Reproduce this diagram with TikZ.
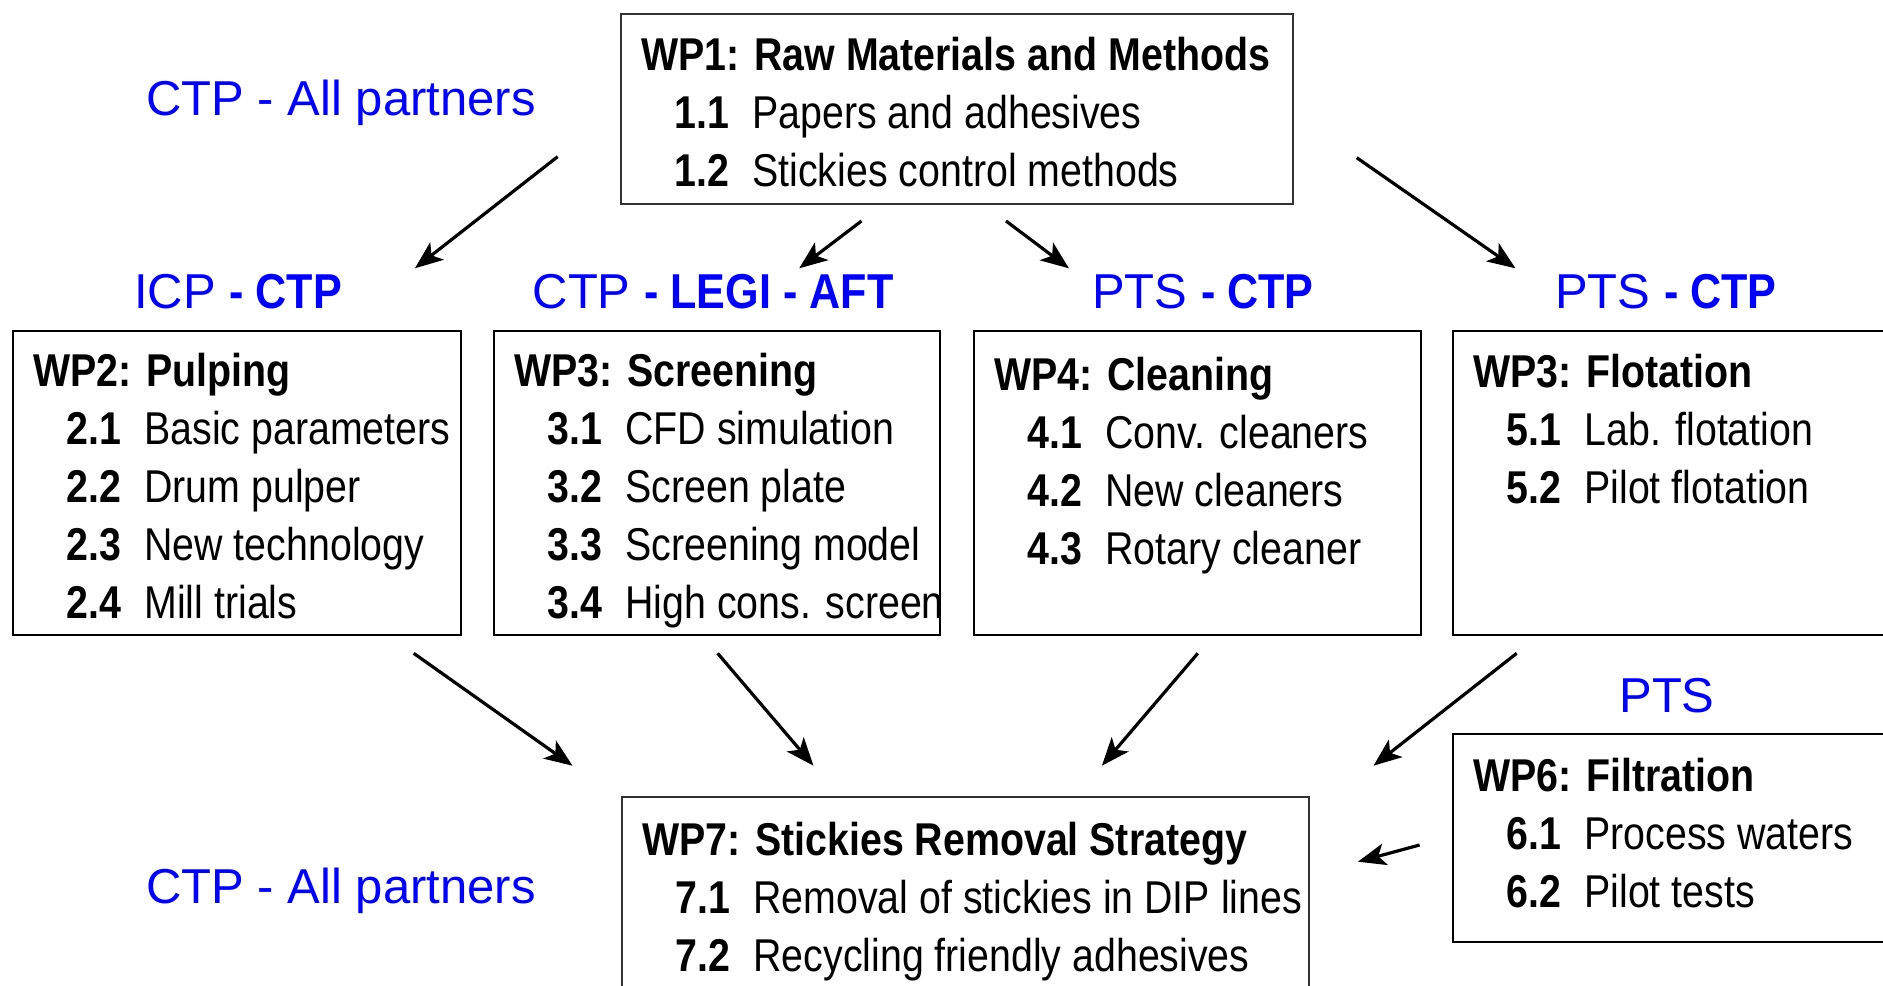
\documentclass[tikz,border=0pt]{standalone}
\usepackage{fontspec}
\setmainfont{Liberation Sans}
\newfontfamily\narrowfont{Liberation Sans}[FakeStretch=0.855]
\newfontfamily\labelbold{Liberation Sans}[FakeStretch=0.88]
\usetikzlibrary{arrows.meta,calc}
\definecolor{partnerblue}{RGB}{0,0,255}
\newcommand\wpcontent[4]{%
  % #1 box name, #2 title offset, #3 title, #4 items
  \node[wptitle] (#1t) at ($(#1.north west)+(20,#2)$) {#3};
  \foreach \n/\t [count=\i] in {#4} {
    \node[wpnum] (#1n\i) at ($(#1.north west)+(53,#2+58*\i)$) {\n};
    \node[wpitem] (#1i\i) at ($(#1.north west)+(131,#2+58*\i)$) {\t};
  }%
}
\begin{document}
\begin{tikzpicture}[x=0.5pt,y=-0.5pt,
  wpbox/.style={draw=black,line width=1.2pt,anchor=north west,inner sep=0pt,outer sep=0pt},
  wpboxgray/.style={wpbox,draw=black!80,line width=1pt},
  wptitle/.style={anchor=base west,inner sep=0pt,font=\narrowfont\fontsize{23}{27}\selectfont\bfseries},
  wpnum/.style={anchor=base west,inner sep=0pt,font=\narrowfont\fontsize{23}{27}\selectfont\bfseries},
  wpitem/.style={anchor=base west,inner sep=0pt,font=\narrowfont\fontsize{23}{27}\selectfont},
  partner/.style={anchor=base,inner sep=0pt,text=partnerblue,font=\fontsize{24.5}{29}\selectfont},
  flow/.style={line width=1.6pt,-{Stealth[length=14pt,width=11pt,inset=3.5pt]}}
]
\useasboundingbox (0,0) rectangle (1883,985);
\clip (0,0) rectangle (1883,985);
\fill[white] (0,0) rectangle (1883,985);

% boxes
\node[wpboxgray,minimum width=336pt,minimum height=95pt] (wp1) at (621,14) {};
\node[wpbox,minimum width=224pt,minimum height=152pt] (wp2) at (13,331) {};
\node[wpbox,minimum width=223pt,minimum height=152pt] (wp3) at (494,331) {};
\node[wpbox,minimum width=223.5pt,minimum height=152pt] (wp4) at (974,331) {};
\node[wpbox,minimum width=223.5pt,minimum height=152pt] (wp5) at (1453,331) {};
\node[wpbox,minimum width=223.5pt,minimum height=104pt] (wp6) at (1453,734) {};
\node[wpboxgray,minimum width=343.5pt,minimum height=101.5pt] (wp7) at (622,797) {};

% contents
\wpcontent{wp1}{56}{WP1: Raw Materials and Methods}{1.1/Papers and adhesives,1.2/Stickies control methods}
\wpcontent{wp2}{55}{WP2: Pulping}{2.1/Basic parameters,2.2/Drum pulper,2.3/New technology,2.4/Mill trials}
\wpcontent{wp3}{55}{WP3: Screening}{3.1/CFD simulation,3.2/Screen plate,3.3/Screening model,3.4/High cons. screen}
\wpcontent{wp4}{59}{WP4: Cleaning}{4.1/Conv. cleaners,4.2/New cleaners,4.3/Rotary cleaner}
\wpcontent{wp5}{56}{WP3: Flotation}{5.1/Lab. flotation,5.2/Pilot flotation}
\wpcontent{wp6}{57}{WP6: Filtration}{6.1/Process waters,6.2/Pilot tests}
\wpcontent{wp7}{58}{WP7: Stickies Removal Strategy}{7.1/Removal of stickies in DIP lines,7.2/Recycling friendly adhesives}

% partner labels
\node[partner] (pTop) at (341,115) {CTP - All partners};
\node[partner] (p2) at (238,308) {ICP {\labelbold\bfseries - CTP}};
\node[partner] (p3) at (713,308) {CTP {\labelbold\bfseries - LEGI - AFT}};
\node[partner] (p4) at (1203,308) {PTS {\labelbold\bfseries - CTP}};
\node[partner] (p5) at (1666,308) {PTS {\labelbold\bfseries - CTP}};
\node[partner] (p6) at (1667,712) {PTS};
\node[partner] (pBot) at (341,903) {CTP - All partners};

% arrow end points
\coordinate (aS) at (557.6,156.7); \coordinate (aE) at (414.9,268.3);
\coordinate (bS) at (861.5,221);   \coordinate (bE) at (799.2,268.3);
\coordinate (cS) at (1006,221);    \coordinate (cE) at (1068.9,268.3);
\coordinate (dS) at (1356.7,157.7); \coordinate (dE) at (1515.5,268.3);
\coordinate (eS) at (413.7,653.3); \coordinate (eE) at (572.5,765.7);
\coordinate (fS) at (717.6,653.3); \coordinate (fE) at (813.5,765.7);
\coordinate (gS) at (1197.8,653.3); \coordinate (gE) at (1101.9,765.7);
\coordinate (hS) at (1516.7,653.3); \coordinate (hE) at (1373.5,765.7);
\coordinate (iS) at (1419.6,845);  \coordinate (iE) at (1357.9,861.7);

\draw[flow] (aS) -- (aE);
\draw[flow] (bS) -- (bE);
\draw[flow] (cS) -- (cE);
\draw[flow] (dS) -- (dE);
\draw[flow] (eS) -- (eE);
\draw[flow] (fS) -- (fE);
\draw[flow] (gS) -- (gE);
\draw[flow] (hS) -- (hE);
\draw[flow] (iS) -- (iE);
\end{tikzpicture}
\end{document}
